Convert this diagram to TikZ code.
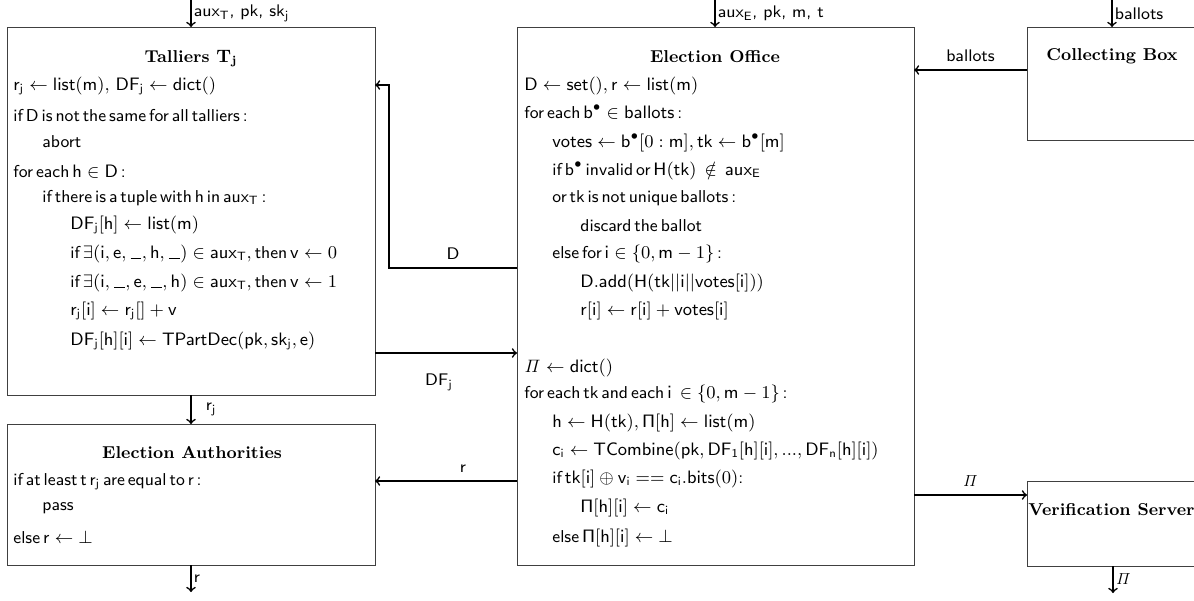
\documentclass[tikz,border=0pt]{standalone}
\usepackage{amsmath,amssymb}
\newcommand{\sv}[1]{\mathsf{#1}}
\newcommand{\blank}{\mathord{\kern.06em\rule[-0.12ex]{0.62em}{0.45pt}\kern.04em}}
\newcommand{\tightsp}{\spaceskip=0.17em plus 0.05em\relax}
\begin{document}
\begin{tikzpicture}[x=0.5pt,y=-0.5pt,
  box/.style={draw=black!75,line width=0.5pt},
  conn/.style={->,line width=0.8pt},
  txt/.style={anchor=base west,inner sep=0pt,font=\sffamily\fontsize{8.6}{10}\selectfont\tightsp},
  ttl/.style={anchor=base,inner sep=0pt,font=\rmfamily\bfseries\fontsize{8.6}{10}\selectfont},
  lbl/.style={inner sep=1pt,font=\sffamily\fontsize{8.4}{10}\selectfont}]
\useasboundingbox (0,0) rectangle (1194,600);
\clip (0,0) rectangle (1194,600);
% boxes
\draw[box] (7,27) rectangle (375,395);
\draw[box] (7,424) rectangle (375,565);
\draw[box] (517,27) rectangle (914,565);
\draw[box] (1027,27) rectangle (1220,140);
\draw[box] (1027,481) rectangle (1220,566);
\coordinate (Ttop) at (191,27);
\coordinate (Tbot) at (191,395);
\coordinate (Tr1) at (375,85);
\coordinate (Tr2) at (375,353);
\coordinate (Atop) at (191,424);
\coordinate (Abot) at (191,565);
\coordinate (Ar) at (375,481);
\coordinate (Etop) at (715,27);
\coordinate (El1) at (517,268);
\coordinate (El2) at (517,353);
\coordinate (El3) at (517,481);
\coordinate (Er1) at (914,70);
\coordinate (Er2) at (914,495);
\coordinate (Ctop) at (1112,27);
\coordinate (Cl) at (1027,70);
\coordinate (Vtop) at (1027,495);
\coordinate (Vbot) at (1113,566);
\coordinate (in1) at (191,0);
\coordinate (in2) at (715,0);
\coordinate (in3) at (1112,0);
\coordinate (out1) at (191,592);
\coordinate (out2) at (1113,593);
\coordinate (bend) at (389,268);
\coordinate (bend2) at (389,85);
% connectors
\draw[conn] (in1) -- node[lbl,anchor=west,pos=0.5]{aux$_\sv{T}$, pk, sk$_\sv{j}$} (Ttop);
\draw[conn] (in2) -- node[lbl,anchor=west,pos=0.5]{aux$_\sv{E}$, pk, m, t} (Etop);
\draw[conn] (in3) -- node[lbl,anchor=west,pos=0.5]{ballots} (Ctop);
\draw[conn] (Cl) -- node[lbl,above=3pt]{ballots} (Er1);
\draw[conn] (El1) -- node[lbl,above=3pt]{D} (bend) -- (bend2) -- (Tr1);
\draw[conn] (Tr2) -- node[lbl,below=9pt,pos=0.45]{DF$_\sv{j}$} (El2);
\draw[conn] (Tbot) -- node[lbl,anchor=west,xshift=6pt]{r$_\sv{j}$} (Atop);
\draw[conn] (El3) -- node[lbl,above=3pt,pos=0.38]{r} (Ar);
\draw[conn] (Abot) -- node[lbl,anchor=west]{r} (out1);
\draw[conn] (Er2) -- node[lbl,above=3pt,pos=0.5]{$\mathit{\Pi}$} (Vtop);
\draw[conn] (Vbot) -- node[lbl,anchor=west]{$\mathit{\Pi}$} (out2);
% Talliers
\node[ttl] (t0) at (191,62) {Talliers $\mathbf{T_j}$};
\node[txt] (t1) at (13,90) {$\sv{r_j}\leftarrow\sv{list}(\sv{m}),\ \sv{DF_j}\leftarrow\sv{dict}()$};
\node[txt] (t2) at (13,121) {if D is not the same for all talliers :};
\node[txt] (t3) at (42,147) {abort};
\node[txt] (t4) at (13,177) {for each $\sv{h}\in\sv{D}$ :};
\node[txt] (t5) at (42,202) {if there is a tuple with h in aux$_\sv{T}$ :};
\node[txt] (t6) at (70,229) {$\sv{DF_j}[\sv{h}]\leftarrow\sv{list}(\sv{m})$};
\node[txt] (t7) at (70,258) {if $\exists(\sv{i},\sv{e},\blank,\sv{h},\blank)\in\sv{aux_T},$ then $\sv{v}\leftarrow0$};
\node[txt] (t8) at (70,287) {if $\exists(\sv{i},\blank,\sv{e},\blank,\sv{h})\in\sv{aux_T},$ then $\sv{v}\leftarrow1$};
\node[txt] (t9) at (70,315) {$\sv{r_j}[\sv{i}]\leftarrow\sv{r_j}[]+\sv{v}$};
\node[txt] (t10) at (70,345) {$\sv{DF_j}[\sv{h}][\sv{i}]\leftarrow\sv{TPartDec}(\sv{pk},\sv{sk_j},\sv{e})$};
% Election Authorities
\node[ttl] (a0) at (192,458) {Election Authorities};
\node[txt] (a1) at (13,485) {if at least t r$_\sv{j}$ are equal to r :};
\node[txt] (a2) at (42,510) {pass};
\node[txt] (a3) at (13,543) {else $\sv{r}\leftarrow\bot$};
% Election Office
\node[ttl] (e0) at (715,62) {Election Office};
\node[txt] (e1) at (524,90) {$\sv{D}\leftarrow\sv{set}(),\sv{r}\leftarrow\sv{list}(\sv{m})$};
\node[txt] (e2) at (524,118) {for each $\sv{b}^\bullet\in\sv{ballots}$ :};
\node[txt] (e3) at (552,147) {$\sv{votes}\leftarrow\sv{b}^\bullet[0:\sv{m}],\sv{tk}\leftarrow\sv{b}^\bullet[\sv{m}]$};
\node[txt] (e4) at (552,175) {if b$^\bullet$ invalid or $\sv{H}(\sv{tk})\ \notin\ \sv{aux_E}$};
\node[txt] (e5) at (552,202) {or tk is not unique ballots :};
\node[txt] (e6) at (580,231) {discard the ballot};
\node[txt] (e7) at (552,258) {else for $\sv{i}\in\{0,\sv{m}-1\}$ :};
\node[txt] (e8) at (580,287) {$\sv{D.add}(\sv{H}(\sv{tk}||\sv{i}||\sv{votes}[\sv{i}]))$};
\node[txt] (e9) at (580,315) {$\sv{r}[\sv{i}]\leftarrow\sv{r}[\sv{i}]+\sv{votes}[\sv{i}]$};
\node[txt] (e10) at (524,372) {$\mathit{\Pi}\leftarrow\sv{dict}()$};
\node[txt] (e11) at (524,398) {for each tk and each $\sv{i}\ \in\{0,\sv{m}-1\}$ :};
\node[txt] (e12) at (552,427) {$\sv{h}\leftarrow\sv{H}(\sv{tk}),\sv{\Pi}[\sv{h}]\leftarrow\sv{list}(\sv{m})$};
\node[txt] (e13) at (552,455) {$\sv{c_i}\leftarrow\sv{TCombine}(\sv{pk},\sv{DF_1}[\sv{h}][\sv{i}],...,\sv{DF_n}[\sv{h}][\sv{i}])$};
\node[txt] (e14) at (552,483) {if $\sv{tk}[\sv{i}]\oplus\sv{v_i}==\sv{c_i.bits}(0)$:};
\node[txt] (e15) at (580,512) {$\sv{\Pi}[\sv{h}][\sv{i}]\leftarrow\sv{c_i}$};
\node[txt] (e16) at (552,542) {else $\sv{\Pi}[\sv{h}][\sv{i}]\leftarrow\bot$};
% Collecting Box / Verification Server
\node[ttl] (c0) at (1112,60) {Collecting Box};
\node[ttl,anchor=base west] (v0) at (1028,515) {Verification Server};
\end{tikzpicture}
\end{document}
